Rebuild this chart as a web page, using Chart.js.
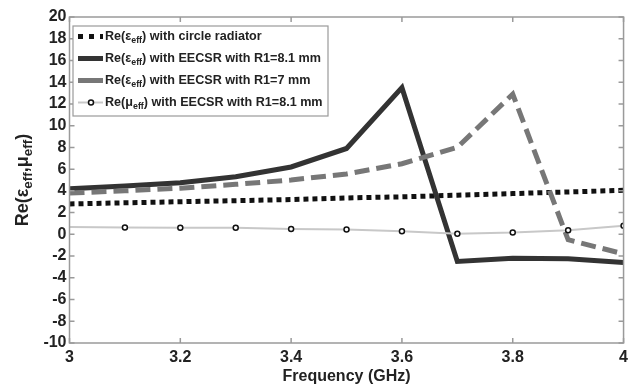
<!DOCTYPE html>
<html>
<head>
  <title>Re(eps_eff, mu_eff) vs frequency</title>
  <script src="https://cdn.jsdelivr.net/npm/chart.js"></script>
  <style>
    html, body { margin: 0; padding: 0; background: #fff; }
    #wrap { width: 633px; height: 385px; position: relative; }
  </style>
</head>
<body>
  <div id="wrap"><canvas id="chart"></canvas></div>

  <script>
    // frequency samples (GHz)
    const freqs = [3.0, 3.1, 3.2, 3.3, 3.4, 3.5, 3.6, 3.7, 3.8, 3.9, 4.0];
    const xTicks = [3, 3.2, 3.4, 3.6, 3.8, 4];
    const yTicks = [-10, -8, -6, -4, -2, 0, 2, 4, 6, 8, 10, 12, 14, 16, 18, 20];

    const epsCircle = [2.8, 2.9, 3.0, 3.1, 3.2, 3.35, 3.45, 3.6, 3.75, 3.9, 4.05];
    const epsR81 = [4.2, 4.45, 4.75, 5.3, 6.2, 7.9, 13.5, -2.5, -2.2, -2.25, -2.6];
    const epsR7 = [3.8, 4.0, 4.25, 4.6, 5.0, 5.55, 6.5, 8.0, 12.9, -0.5, -1.8];
    const muR81 = [0.68, 0.62, 0.6, 0.6, 0.5, 0.44, 0.28, 0.06, 0.16, 0.38, 0.78];

    const FONT = '"Liberation Sans", Arial, sans-serif';

    const series = [
      { name: 'circle', data: epsCircle, color: '#111', width: 5, dash: [5, 4] },
      { name: 'r81', data: epsR81, color: '#333', width: 5, dash: [] },
      { name: 'r7', data: epsR7, color: '#777', width: 5, dash: [15, 7] },
      { name: 'mu', data: muR81, color: '#c8c8c8', width: 2, dash: [] }
    ];

    // legend entries: [prefix, subscript, suffix]
    const legendItems = [
      ['Re(\u03b5', 'eff', ') with circle radiator'],
      ['Re(\u03b5', 'eff', ') with EECSR with R1=8.1 mm'],
      ['Re(\u03b5', 'eff', ') with EECSR with R1=7 mm'],
      ['Re(\u03bc', 'eff', ') with EECSR with R1=8.1 mm']
    ];

    function drawSubText(ctx, parts, x, y, size, subScale) {
      // parts alternate: normal, sub, normal, sub, ...
      let cx = x;
      parts.forEach((p, i) => {
        const sub = i % 2 === 1;
        ctx.font = 'bold ' + (sub ? size * subScale : size) + 'px ' + FONT;
        ctx.fillText(p, cx, sub ? y + size * 0.3 : y);
        cx += ctx.measureText(p).width;
      });
      return cx - x;
    }

    const decor = {
      id: 'decor',
      afterDraw(chart) {
        const ctx = chart.ctx;
        const a = chart.chartArea;
        const xs = chart.scales.x, ys = chart.scales.y;
        ctx.save();

        // frame and inward ticks
        ctx.strokeStyle = '#9a9a9a';
        ctx.lineWidth = 1.5;
        ctx.strokeRect(a.left, a.top, a.right - a.left, a.bottom - a.top);
        ctx.beginPath();
        xTicks.forEach(v => {
          const px = xs.getPixelForValue(v);
          ctx.moveTo(px, a.bottom); ctx.lineTo(px, a.bottom - 5);
          ctx.moveTo(px, a.top); ctx.lineTo(px, a.top + 5);
        });
        yTicks.forEach(v => {
          const py = ys.getPixelForValue(v);
          ctx.moveTo(a.left, py); ctx.lineTo(a.left + 5, py);
          ctx.moveTo(a.right, py); ctx.lineTo(a.right - 5, py);
        });
        ctx.stroke();

        // y axis title with subscripts
        ctx.fillStyle = '#222';
        ctx.textBaseline = 'middle';
        ctx.textAlign = 'left';
        ctx.save();
        ctx.translate(23, (a.top + a.bottom) / 2);
        ctx.rotate(-Math.PI / 2);
        const yParts = ['Re(\u03b5', 'eff', ',\u03bc', 'eff', ')'];
        let w = 0;
        yParts.forEach((p, i) => {
          ctx.font = 'bold ' + (i % 2 ? 18 * 0.75 : 18) + 'px ' + FONT;
          w += ctx.measureText(p).width;
        });
        drawSubText(ctx, yParts, -w / 2, 0, 18, 0.75);
        ctx.restore();

        // legend
        const lx = 73, ly = 26, lw = 255, lh = 90;
        ctx.fillStyle = '#fff';
        ctx.fillRect(lx, ly, lw, lh);
        ctx.strokeStyle = '#9a9a9a';
        ctx.lineWidth = 1.2;
        ctx.strokeRect(lx, ly, lw, lh);
        legendItems.forEach((item, i) => {
          const s = series[i];
          const yy = ly + 10.5 + i * 22;
          ctx.beginPath();
          ctx.strokeStyle = s.color;
          ctx.lineWidth = s.width;
          ctx.setLineDash(s.name === 'circle' ? [5, 6] : []);
          ctx.moveTo(lx + 5, yy);
          ctx.lineTo(lx + 30, yy);
          ctx.stroke();
          ctx.setLineDash([]);
          if (s.name === 'mu') {
            ctx.beginPath();
            ctx.arc(lx + 18, yy, 2.5, 0, Math.PI * 2);
            ctx.fillStyle = '#fff';
            ctx.fill();
            ctx.strokeStyle = '#111';
            ctx.lineWidth = 1.5;
            ctx.stroke();
          }
          ctx.fillStyle = '#222';
          drawSubText(ctx, item, lx + 32, yy, 12.6, 0.7);
        });
        ctx.restore();
      }
    };

    const datasets = series.map(s => ({
      label: s.name,
      data: freqs.map((f, i) => ({ x: f, y: s.data[i] })),
      borderColor: s.color,
      borderWidth: s.width,
      borderDash: s.dash,
      borderCapStyle: 'butt',
      borderJoinStyle: 'miter',
      fill: false,
      tension: 0,
      pointRadius: s.name === 'mu' ? freqs.map((f, i) => (i === 0 ? 0 : 2.5)) : 0,
      pointBackgroundColor: '#fff',
      pointBorderColor: '#111',
      pointBorderWidth: 1.5
    }));
    // draw mu first so the other curves sit above it
    datasets.reverse();

    new Chart(document.getElementById('chart').getContext('2d'), {
      type: 'line',
      data: { datasets: datasets },
      plugins: [decor],
      options: {
        responsive: true,
        maintainAspectRatio: false,
        animation: false,
        layout: { padding: { top: 17, right: 4, left: 0, bottom: 0 } },
        plugins: { legend: { display: false }, tooltip: { enabled: false } },
        scales: {
          x: {
            type: 'linear',
            min: 3, max: 4,
            afterBuildTicks: axis => { axis.ticks = xTicks.map(v => ({ value: v })); },
            afterFit: axis => { axis.height = 42; },
            grid: { display: false, drawTicks: false },
            border: { display: false },
            ticks: {
              autoSkip: false, maxRotation: 0,
              color: '#222', padding: 5,
              font: { family: FONT, size: 16, weight: 'bold' },
              callback: v => String(v)
            },
            title: {
              display: true, text: 'Frequency (GHz)', color: '#222', padding: 0,
              font: { family: FONT, size: 16, weight: 'bold', lineHeight: 1.05 }
            }
          },
          y: {
            min: -10, max: 20,
            afterBuildTicks: axis => { axis.ticks = yTicks.map(v => ({ value: v })); },
            afterFit: axis => { axis.width = 69.5; },
            grid: { display: false, drawTicks: false },
            border: { display: false },
            ticks: {
              autoSkip: false,
              color: '#222', padding: 3,
              font: { family: FONT, size: 16, weight: 'bold' }
            }
          }
        }
      }
    });
  </script>
</body>
</html>
